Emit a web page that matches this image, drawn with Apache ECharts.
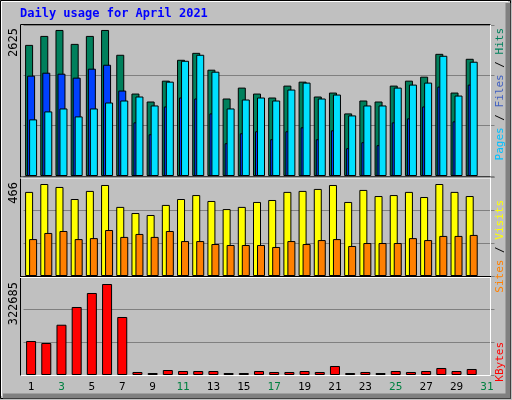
<!DOCTYPE html>
<html><head><meta charset="utf-8">
<script src="https://cdn.jsdelivr.net/npm/echarts@6/dist/echarts.min.js"></script>
<style>html,body{margin:0;padding:0;background:#c0c0c0}#c{width:512px;height:400px}</style>
</head><body><div id="c"></div>
<script>
const days = ['1','2','3','4','5','6','7','8','9','10','11','12','13','14','15','16','17','18','19','20','21','22','23','24','25','26','27','28','29','30','31'];
const weekend = ['3','4','10','11','17','18','24','25','31'];
const hits = [2357,2518,2625,2375,2518,2625,2179,1482,1339,1714,2089,2214,1911,1393,1589,1482,1411,1625,1696,1429,1500,1125,1357,1339,1625,1714,1786,2196,1500,2107,null];
const files = [1804,1857,1839,1768,1929,2000,1536,964,750,1250,1411,1393,1125,589,768,804,661,804,875,661,821,500,607,554,964,1036,1250,1607,982,1643,null];
const pages = [1018,1161,1214,1071,1214,1321,1357,1429,1268,1696,2071,2179,1875,1214,1375,1411,1357,1554,1679,1393,1464,1089,1268,1268,1589,1643,1679,2161,1446,2054,null];
const visits = [426,466,451,390,431,461,350,319,309,360,390,410,380,339,350,375,385,426,431,441,461,375,436,405,410,426,400,466,426,405,null];
const sites = [187,218,228,187,192,233,198,213,198,228,177,177,162,157,157,157,147,177,162,182,187,152,167,167,167,192,182,203,203,208,null];
const kbytes = [120568,113472,178260,241130,290775,322685,205670,10640,7092,17730,14184,14184,14184,7092,7092,14184,10640,10640,14184,10640,31914,7092,10640,7092,14184,10640,14184,24822,14184,21276,null];
const maxLabels = ['2625','466','322685'];

const FONT = 'DejaVu Sans Mono';
const M1 = 2625*152/147, M2 = 466*297/276, M3 = 322685*297/273;
const bs = {borderColor:'#000',borderWidth:1};
const grids = [
 {left:23.5,width:471,top:25,height:151},
 {left:23.5,width:471,top:177,height:99},
 {left:23.5,width:471,top:276,height:99}
];
function xa(i,show){return {type:'category',gridIndex:i,data:days,axisLine:{show:false},axisTick:{show:false},
 axisLabel:{show:show,fontFamily:FONT,fontSize:11,margin:7,color:function(v){return weekend.includes(v)?'#008040':'#000';}}};}
function ya(i,M){return {type:'value',gridIndex:i,min:0,max:M,interval:M/3,axisLabel:{show:false},axisLine:{show:false},axisTick:{show:false},
 splitLine:{lineStyle:{color:'#808080',width:1}}};}
const chart = echarts.init(document.getElementById('c'));
chart.setOption({
 animation:false,backgroundColor:'#c0c0c0',
 grid:grids,
 xAxis:[xa(0,false),xa(1,false),xa(2,true)],
 yAxis:[ya(0,M1),ya(1,M2),ya(2,M3)],
 series:[
  {type:'bar',xAxisIndex:0,yAxisIndex:0,data:hits,barWidth:8,barGap:'-75%',itemStyle:Object.assign({color:'#00805C'},bs)},
  {type:'bar',xAxisIndex:0,yAxisIndex:0,data:files,barWidth:8,barGap:'-75%',itemStyle:Object.assign({color:'#0040FF'},bs)},
  {type:'bar',xAxisIndex:0,yAxisIndex:0,data:pages,barWidth:8,barGap:'-75%',itemStyle:Object.assign({color:'#00E0FF'},bs)},
  {type:'bar',xAxisIndex:1,yAxisIndex:1,data:visits,barWidth:8,barGap:'-50%',itemStyle:Object.assign({color:'#FFFF00'},bs)},
  {type:'bar',xAxisIndex:1,yAxisIndex:1,data:sites,barWidth:8,barGap:'-50%',itemStyle:Object.assign({color:'#FF8000'},bs)},
  {type:'bar',xAxisIndex:2,yAxisIndex:2,data:kbytes,barWidth:10,itemStyle:Object.assign({color:'#FF0000'},bs)}
 ],
 graphic:[
  {type:'rect',shape:{x:0.5,y:0.5,width:510,height:398},style:{fill:null,stroke:'#000',lineWidth:1},z:-1},
  {type:'polyline',shape:{points:[[508,3],[508,396],[3,396]]},style:{fill:null,stroke:'#808080',lineWidth:5},z:-1},
  {type:'polyline',shape:{points:[[1.5,396],[1.5,1.5],[508,1.5]]},style:{fill:null,stroke:'#fff',lineWidth:1},z:-1},
  {type:'rect',shape:{x:20.5,y:24.5,width:470,height:351},style:{fill:null,stroke:'#fff',lineWidth:1},z:100},
  {type:'polyline',shape:{points:[[20.5,375.5],[20.5,24.5],[490.5,24.5]]},style:{fill:null,stroke:'#000',lineWidth:1},z:100},
  {type:'line',shape:{x1:20,y1:177,x2:491,y2:177},style:{stroke:'#000',lineWidth:1},z:100},
  {type:'line',shape:{x1:20,y1:178,x2:491,y2:178},style:{stroke:'#fff',lineWidth:1},z:100},
  {type:'line',shape:{x1:20,y1:276.5,x2:491,y2:276.5},style:{stroke:'#000',lineWidth:1},z:100},
  {type:'line',shape:{x1:20,y1:277.5,x2:491,y2:277.5},style:{stroke:'#fff',lineWidth:1},z:100},
  {type:'text',left:20,top:8,style:{text:'Daily usage for April 2021',fill:'#0000FF',font:'bold 12px "'+FONT+'"'}},
  {type:'text',x:8,y:28,rotation:Math.PI/2,style:{text:maxLabels[0],fill:'#000',font:'12px "'+FONT+'"',align:'right',verticalAlign:'top'}},
  {type:'text',x:8,y:182,rotation:Math.PI/2,style:{text:maxLabels[1],fill:'#000',font:'12px "'+FONT+'"',align:'right',verticalAlign:'top'}},
  {type:'text',x:8,y:282,rotation:Math.PI/2,style:{text:maxLabels[2],fill:'#000',font:'12px "'+FONT+'"',align:'right',verticalAlign:'top'}},
  {type:'text',x:495,y:28,rotation:Math.PI/2,style:{align:'right',verticalAlign:'top',font:'11px "'+FONT+'"',
   text:'{p|Pages} {s|/} {f|Files} {s|/} {h|Hits}',rich:{p:{fill:'#00C0FF',font:'11px "'+FONT+'"'},s:{fill:'#000',font:'11px "'+FONT+'"'},f:{fill:'#4060c0',font:'11px "'+FONT+'"'},h:{fill:'#00805C',font:'11px "'+FONT+'"'}}}},
  {type:'text',x:495,y:200,rotation:Math.PI/2,style:{align:'right',verticalAlign:'top',font:'11px "'+FONT+'"',
   text:'{a|Sites} {s|/} {b|Visits}',rich:{a:{fill:'#FF8000',font:'11px "'+FONT+'"'},s:{fill:'#000',font:'11px "'+FONT+'"'},b:{fill:'#FFFF00',font:'11px "'+FONT+'"'}}}},
  {type:'text',x:495,y:342,rotation:Math.PI/2,style:{align:'right',verticalAlign:'top',text:'KBytes',fill:'#FF0000',font:'11px "'+FONT+'"'}}
 ]
});
</script></body></html>
